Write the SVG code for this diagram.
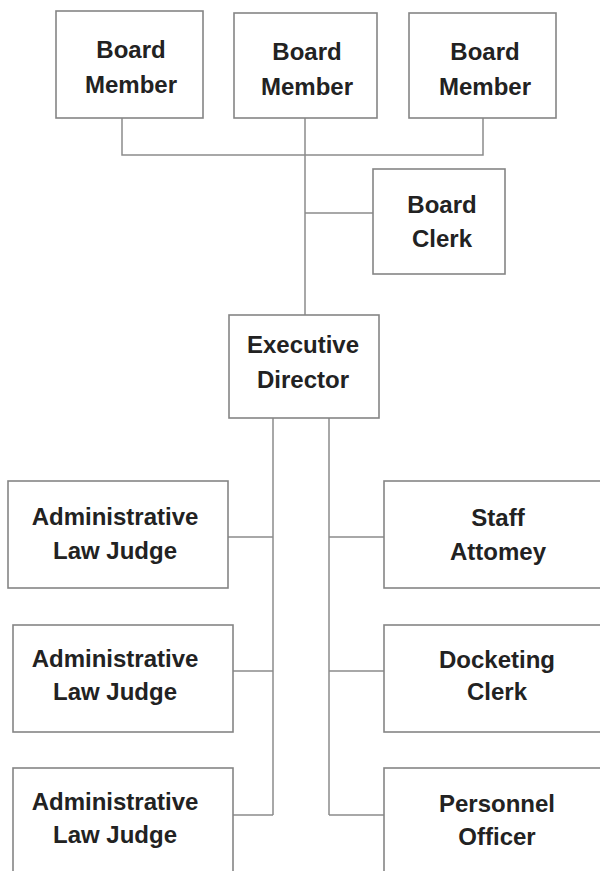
<svg xmlns="http://www.w3.org/2000/svg" width="600" height="871" viewBox="0 0 600 871">
<style>
.box{fill:#fff;stroke:#858585;stroke-width:1.6}
.lbl{font-family:"Liberation Sans",Arial,sans-serif;font-weight:bold;font-size:24px;fill:#222;text-anchor:middle}
.con{fill:none;stroke:#8c8c8c;stroke-width:1.5}
</style>
<rect width="600" height="871" fill="#fff"/>
<g id="connectors">
<path class="con" d="M122 118V155H483V118M305 118V315M305 213H373"/>
<path class="con" d="M273 418V815M329 418V815M228 537H273M233 671H273M233 815H273M329 537H384M329 671H384M329 815H384"/>
</g>
<g id="board-member-1"><rect class="box" x="56" y="11" width="147" height="107"/><text class="lbl" x="131" y="58">Board</text><text class="lbl" x="131" y="93">Member</text></g>
<g id="board-member-2"><rect class="box" x="234" y="13" width="143" height="105"/><text class="lbl" x="307" y="60">Board</text><text class="lbl" x="307" y="95">Member</text></g>
<g id="board-member-3"><rect class="box" x="409" y="13" width="147" height="105"/><text class="lbl" x="485" y="60">Board</text><text class="lbl" x="485" y="95">Member</text></g>
<g id="board-clerk"><rect class="box" x="373" y="169" width="132" height="105"/><text class="lbl" x="442" y="213">Board</text><text class="lbl" x="442" y="247">Clerk</text></g>
<g id="executive-director"><rect class="box" x="229" y="315" width="150" height="103"/><text class="lbl" x="303" y="353">Executive</text><text class="lbl" x="303" y="388">Director</text></g>
<g id="alj-1"><rect class="box" x="8" y="481" width="220" height="107"/><text class="lbl" x="115" y="525">Administrative</text><text class="lbl" x="115" y="559">Law Judge</text></g>
<g id="alj-2"><rect class="box" x="13" y="625" width="220" height="107"/><text class="lbl" x="115" y="667">Administrative</text><text class="lbl" x="115" y="700">Law Judge</text></g>
<g id="alj-3"><rect class="box" x="13" y="768" width="220" height="120"/><text class="lbl" x="115" y="810">Administrative</text><text class="lbl" x="115" y="843">Law Judge</text></g>
<g id="staff-attorney"><rect class="box" x="384" y="481" width="230" height="107"/><text class="lbl" x="498" y="526">Staff</text><text class="lbl" x="498" y="560">Attomey</text></g>
<g id="docketing-clerk"><rect class="box" x="384" y="625" width="230" height="107"/><text class="lbl" x="497" y="668">Docketing</text><text class="lbl" x="497" y="700">Clerk</text></g>
<g id="personnel-officer"><rect class="box" x="384" y="768" width="230" height="120"/><text class="lbl" x="497" y="812">Personnel</text><text class="lbl" x="497" y="845">Officer</text></g>
</svg>
